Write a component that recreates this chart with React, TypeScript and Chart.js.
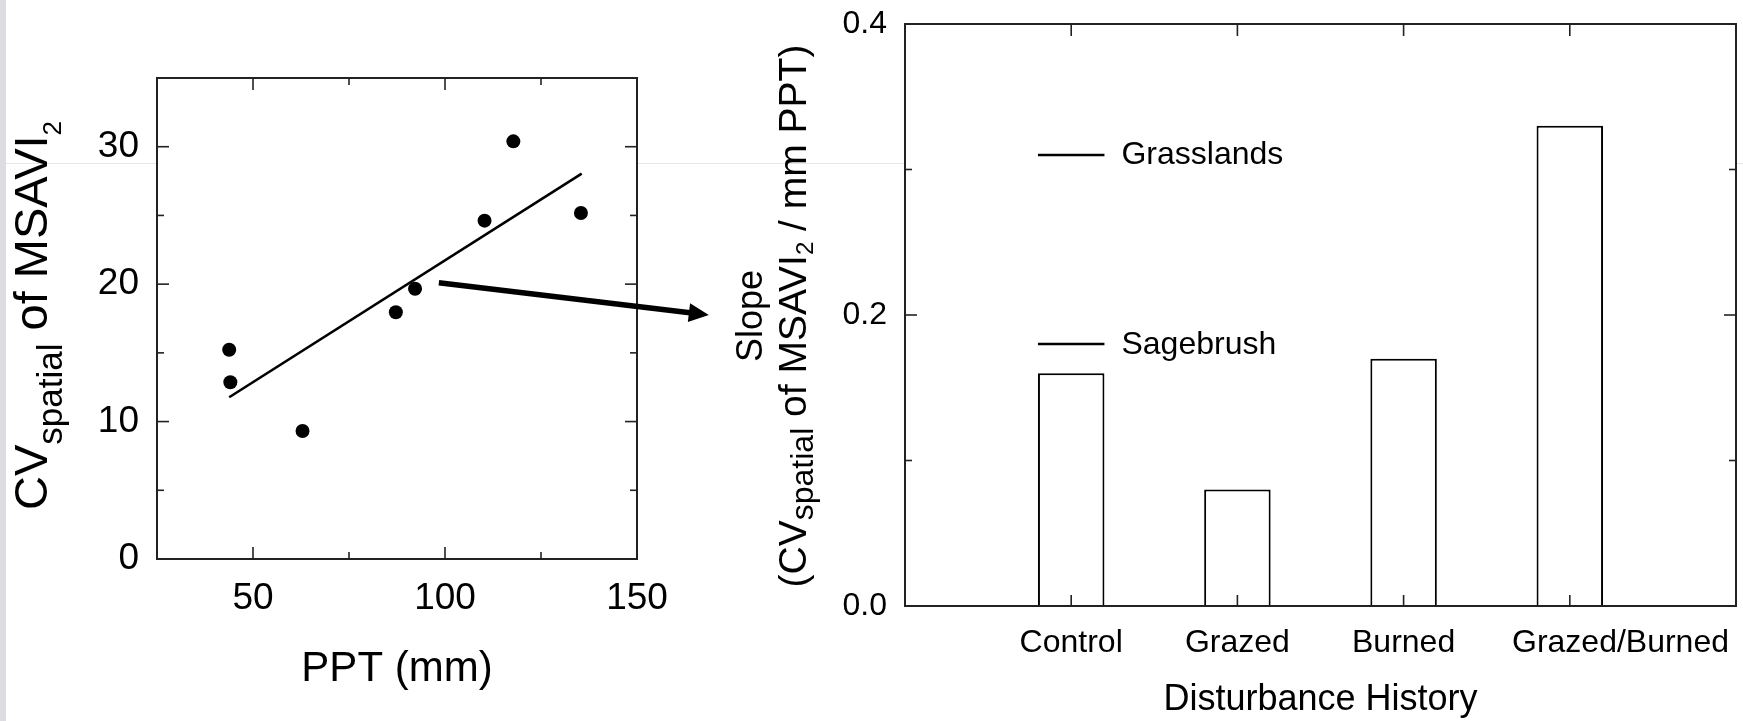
import React, { useEffect, useRef } from 'react';
import { Chart, registerables } from 'chart.js';

Chart.register(...registerables);

const W = 1743;
const H = 721;
const FONT = '"Liberation Sans", Arial, Helvetica, sans-serif';

// ---------- Left panel data ----------
const pptValues = [43.8, 44.1, 62.9, 87.2, 92.2, 110.3, 117.8, 135.4];
const cvValues = [15.23, 12.86, 9.31, 17.95, 19.67, 24.62, 30.39, 25.18];
const fitPpt = [43.8, 135.6];
const fitCv = [11.77, 28.04];
const arrowPpt = [98.4, 168.7];
const arrowCv = [20.1, 17.75];
const pptTickLabels = ['50', '100', '150'];
const cvTickLabels = ['0', '10', '20', '30'];

// ---------- Right panel data ----------
const categories = ['Control', 'Grazed', 'Burned', 'Grazed/Burned'];
const slopes = [0.16, 0.08, 0.17, 0.33];
const refNames = ['Grasslands', 'Sagebrush'];
const refSlopes = [0.31, 0.18];
const slopeTickLabels = ['0.0', '0.2', '0.4'];

type Seg = { t: string; size: number; dy: number };

function drawRich(ctx: CanvasRenderingContext2D, segs: Seg[], x: number, y: number, rotated: boolean) {
  ctx.save();
  ctx.fillStyle = '#000';
  ctx.textBaseline = 'alphabetic';
  ctx.textAlign = 'left';
  let total = 0;
  const widths = segs.map((s) => {
    ctx.font = `${s.size}px ${FONT}`;
    const w = ctx.measureText(s.t).width;
    total += w;
    return w;
  });
  ctx.translate(x, y);
  if (rotated) ctx.rotate(-Math.PI / 2);
  let cx = -total / 2;
  segs.forEach((s, i) => {
    ctx.font = `${s.size}px ${FONT}`;
    ctx.fillText(s.t, cx, s.dy);
    cx += widths[i];
  });
  ctx.restore();
}

function seg(ctx: CanvasRenderingContext2D, x0: number, y0: number, x1: number, y1: number) {
  ctx.beginPath();
  ctx.moveTo(x0, y0);
  ctx.lineTo(x1, y1);
  ctx.stroke();
}

function noPad(s: any) {
  s.paddingTop = 0;
  s.paddingBottom = 0;
  s.paddingLeft = 0;
  s.paddingRight = 0;
}

const whiteArea = {
  id: 'whiteArea',
  beforeDraw(chart: any) {
    const { ctx, chartArea: a } = chart;
    ctx.save();
    ctx.fillStyle = '#fff';
    ctx.fillRect(a.left, a.top, a.right - a.left, a.bottom - a.top);
    ctx.restore();
  },
};

function frame(chart: any, categoryX: boolean) {
  const { ctx, chartArea: a } = chart;
  const xs = chart.scales.x;
  const ys = chart.scales.y;
  ctx.save();
  ctx.strokeStyle = '#222';
  ctx.lineWidth = 2;
  ctx.strokeRect(a.left, a.top, a.right - a.left, a.bottom - a.top);
  ctx.lineWidth = 1.6;
  ys.ticks.forEach((t: any) => {
    const p = ys.getPixelForValue(t.value);
    if (Math.abs(p - a.top) < 1 || Math.abs(p - a.bottom) < 1) return;
    const len = t.label ? 12 : 7;
    seg(ctx, a.left, p, a.left + len, p);
    seg(ctx, a.right, p, a.right - len, p);
  });
  if (categoryX) {
    categories.forEach((_, i) => {
      const p = xs.getPixelForValue(i + 1);
      seg(ctx, p, a.bottom, p, a.bottom - 11);
      seg(ctx, p, a.top, p, a.top + 12);
    });
  } else {
    xs.ticks.forEach((t: any) => {
      const p = xs.getPixelForValue(t.value);
      if (Math.abs(p - a.left) < 1 || Math.abs(p - a.right) < 1) return;
      const len = t.label ? 12 : 7;
      seg(ctx, p, a.bottom, p, a.bottom - len);
      seg(ctx, p, a.top, p, a.top + len);
    });
  }
  ctx.restore();
}

const leftDecor = {
  id: 'leftDecor',
  afterDraw(chart: any) {
    const { ctx, chartArea: a } = chart;
    const xs = chart.scales.x;
    const ys = chart.scales.y;
    frame(chart, false);
    // arrow
    const x0 = xs.getPixelForValue(arrowPpt[0]);
    const y0 = ys.getPixelForValue(arrowCv[0]);
    const x1 = xs.getPixelForValue(arrowPpt[1]);
    const y1 = ys.getPixelForValue(arrowCv[1]);
    const ang = Math.atan2(y1 - y0, x1 - x0);
    const headLen = 20;
    const headW = 9.5;
    const bx = x1 - headLen * Math.cos(ang);
    const by = y1 - headLen * Math.sin(ang);
    ctx.save();
    ctx.strokeStyle = '#000';
    ctx.fillStyle = '#000';
    ctx.lineWidth = 5.5;
    seg(ctx, x0, y0, bx + Math.cos(ang), by + Math.sin(ang));
    ctx.beginPath();
    ctx.moveTo(x1, y1);
    ctx.lineTo(bx + headW * Math.sin(ang), by - headW * Math.cos(ang));
    ctx.lineTo(bx - headW * Math.sin(ang), by + headW * Math.cos(ang));
    ctx.closePath();
    ctx.fill();
    ctx.restore();
    // titles
    drawRich(
      ctx,
      [
        { t: 'CV', size: 47, dy: 0 },
        { t: 'spatial', size: 35, dy: 15 },
        { t: ' of MSAVI', size: 47, dy: 0 },
        { t: '2', size: 26, dy: 14 },
      ],
      47,
      (a.top + a.bottom) / 2 - 3,
      true
    );
    drawRich(ctx, [{ t: 'PPT (mm)', size: 42, dy: 0 }], (a.left + a.right) / 2, 681, false);
  },
};

const rightDecor = {
  id: 'rightDecor',
  afterDraw(chart: any) {
    const { ctx, chartArea: a } = chart;
    const xs = chart.scales.x;
    const ys = chart.scales.y;
    frame(chart, true);
    ctx.save();
    ctx.fillStyle = '#000';
    ctx.font = `32px ${FONT}`;
    ctx.textBaseline = 'alphabetic';
    ctx.textAlign = 'left';
    // category labels; the last one is end-aligned to the plot's right edge
    categories.forEach((c, i) => {
      const w = ctx.measureText(c).width;
      let cx = xs.getPixelForValue(i + 1);
      if (i === categories.length - 1) cx = a.right - 7 - w / 2;
      ctx.fillText(c, cx - w / 2, a.bottom + 46);
    });
    // reference lines (Grasslands / Sagebrush)
    const meta = chart.getDatasetMeta(0);
    const ctrl = meta.data[1] as any;
    const half = ctrl.width / 2;
    const cx = xs.getPixelForValue(1);
    ctx.strokeStyle = '#000';
    ctx.lineWidth = 2.5;
    refSlopes.forEach((v, i) => {
      const y = ys.getPixelForValue(v);
      seg(ctx, cx - half, y, cx + half, y);
      ctx.fillText(refNames[i], cx + half + 17, y + 9.5);
    });
    ctx.restore();
    const cy = (a.top + a.bottom) / 2 + 1;
    drawRich(ctx, [{ t: 'Slope', size: 36, dy: 0 }], 762, cy, true);
    drawRich(
      ctx,
      [
        { t: '(CV', size: 39, dy: 0 },
        { t: 'spatial', size: 32, dy: 7 },
        { t: ' of MSAVI', size: 39, dy: 0 },
        { t: '2', size: 24, dy: 7 },
        { t: ' / mm PPT)', size: 39, dy: 0 },
      ],
      806,
      cy,
      true
    );
    drawRich(ctx, [{ t: 'Disturbance History', size: 36, dy: 0 }], (a.left + a.right) / 2, 710, false);
  },
};

export default function App() {
  const leftRef = useRef<HTMLCanvasElement>(null);
  const rightRef = useRef<HTMLCanvasElement>(null);

  useEffect(() => {
    Chart.defaults.font.family = FONT;
    const tickFontL = { size: 37, family: FONT };
    const tickFontR = { size: 32, family: FONT };

    const left = new Chart(leftRef.current as HTMLCanvasElement, {
      type: 'scatter',
      data: {
        datasets: [
          {
            type: 'scatter',
            data: pptValues.map((x, i) => ({ x, y: cvValues[i] })),
            backgroundColor: '#000',
            borderColor: '#000',
            pointRadius: 7,
            pointBorderWidth: 0,
          } as any,
          {
            type: 'line',
            data: fitPpt.map((x, i) => ({ x, y: fitCv[i] })),
            borderColor: '#000',
            borderWidth: 2.6,
            pointRadius: 0,
            showLine: true,
            fill: false,
          } as any,
        ],
      },
      options: {
        responsive: false,
        devicePixelRatio: 1,
        animation: false,
        events: [],
        layout: { padding: { left: 0, top: 78, right: W - 637, bottom: 0 } },
        plugins: { legend: { display: false }, tooltip: { enabled: false } },
        scales: {
          x: {
            type: 'linear',
            min: 25,
            max: 150,
            grid: { display: false, drawTicks: false },
            border: { display: false },
            ticks: {
              stepSize: 25,
              padding: 18,
              color: '#000',
              font: tickFontL,
              maxRotation: 0,
              autoSkip: false,
              callback: (v: any) => (pptTickLabels.includes(String(v)) ? String(v) : ''),
            },
            afterFit: (s: any) => {
              s.height = H - 559;
              noPad(s);
            },
          },
          y: {
            type: 'linear',
            min: 0,
            max: 35,
            grid: { display: false, drawTicks: false },
            border: { display: false },
            ticks: {
              stepSize: 5,
              padding: 18,
              color: '#000',
              font: tickFontL,
              autoSkip: false,
              callback: (v: any) => (cvTickLabels.includes(String(v)) ? String(v) : ''),
            },
            afterFit: (s: any) => {
              s.width = 157;
              noPad(s);
            },
          },
        },
      } as any,
      plugins: [whiteArea, leftDecor],
    });

    const right = new Chart(rightRef.current as HTMLCanvasElement, {
      type: 'bar',
      data: {
        labels: ['', ...categories, ''],
        datasets: [
          {
            data: [null, ...slopes, null],
            backgroundColor: '#fff',
            borderColor: '#000',
            borderWidth: 2,
            categoryPercentage: 0.8,
            barPercentage: 0.5,
          } as any,
        ],
      },
      options: {
        responsive: false,
        devicePixelRatio: 1,
        animation: false,
        events: [],
        layout: { padding: { left: 0, top: 24, right: 7, bottom: 0 } },
        plugins: { legend: { display: false }, tooltip: { enabled: false } },
        scales: {
          x: {
            type: 'category',
            offset: false,
            grid: { display: false, drawTicks: false },
            border: { display: false },
            ticks: { display: false, autoSkip: false },
            afterFit: (s: any) => {
              s.height = H - 606;
              noPad(s);
            },
          },
          y: {
            type: 'linear',
            min: 0,
            max: 0.4,
            grid: { display: false, drawTicks: false },
            border: { display: false },
            ticks: {
              stepSize: 0.1,
              padding: 18,
              color: '#000',
              font: tickFontR,
              autoSkip: false,
              callback: (v: any) => {
                const s = Number(v).toFixed(1);
                return slopeTickLabels.includes(s) ? s : '';
              },
            },
            afterFit: (s: any) => {
              s.width = 905;
              noPad(s);
            },
          },
        },
      } as any,
      plugins: [whiteArea, rightDecor],
    });

    return () => {
      left.destroy();
      right.destroy();
    };
  }, []);

  return (
    <div style={{ position: 'fixed', left: 0, top: 0, width: W, height: H, background: '#fff', overflow: 'hidden' }}>
      <div style={{ position: 'absolute', left: 0, top: 0, width: 6, height: H, background: '#dcdde0' }} />
      <div style={{ position: 'absolute', left: 6, top: 163, width: W - 6, height: 1, background: '#e6e6e6' }} />
      <canvas ref={leftRef} width={W} height={H} style={{ position: 'absolute', left: 0, top: 0, width: W, height: H }} />
      <canvas ref={rightRef} width={W} height={H} style={{ position: 'absolute', left: 0, top: 0, width: W, height: H }} />
    </div>
  );
}
